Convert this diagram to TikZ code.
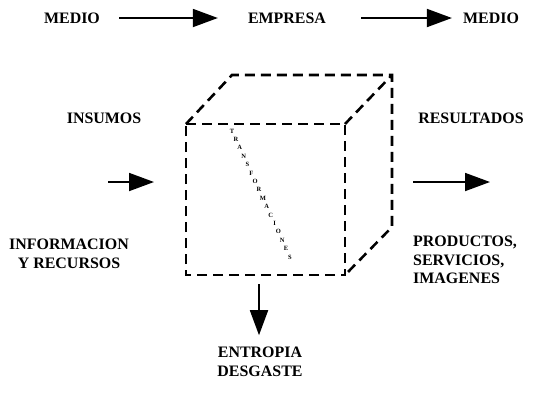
\documentclass[tikz,border=0pt]{standalone}
\usepackage{fontspec}
\setmainfont{Liberation Serif}
\usetikzlibrary{arrows.meta,calc}
\begin{document}
\begin{tikzpicture}[x=1bp,y=-1bp,
  lbl/.style={font=\bfseries\fontsize{16}{18.5}\selectfont, inner sep=0pt},
  arr/.style={line width=1.8bp, -{Triangle[length=25bp,width=18bp]}},
  cube/.style={line width=2.6bp, dash pattern=on 10bp off 6bp},
  tiny/.style={font=\bfseries\fontsize{6.5}{6.5}\selectfont, inner sep=0pt}]
\useasboundingbox (0,0) rectangle (540,407);
% top row
\node[lbl] (m1) at (72,18) {MEDIO};
\node[lbl] (emp) at (287,18) {EMPRESA};
\node[lbl] (m2) at (491,18) {MEDIO};
\draw[arr] ($(m1.east)+(19,0)$) coordinate (a1s) -- ($(emp.west)+(-30,0)$) coordinate (a1e);
\draw[arr] ($(emp.east)+(35,0)$) coordinate (a2s) -- ($(m2.west)+(-11,0)$) coordinate (a2e);
% side labels
\node[lbl] (ins) at (104,118) {INSUMOS};
\node[lbl] (res) at (471,118) {RESULTADOS};
\node[lbl, align=center] (inf) at (69,254) {INFORMACION\\Y RECURSOS};
\node[lbl, align=left, anchor=north west] (prod) at (413,236) {PRODUCTOS,\\SERVICIOS,\\IMAGENES};
\node[lbl, align=center] (ent) at (260,362) {ENTROPIA\\DESGASTE};
% cube
\coordinate (f1) at (186,124);
\coordinate (f2) at (345,124);
\coordinate (f3) at (345,275);
\coordinate (f4) at (186,275);
\coordinate (b1) at (232,75);
\coordinate (b2) at (392,75);
\coordinate (b3) at (392,227);
\draw[cube] (f1) -- (f2) -- (f3) -- (f4) -- cycle;
\draw[cube] (f1) -- (b1) -- (b2) -- (b3) -- (f3);
\draw[cube] (f2) -- (b2);
% diagonal text
\coordinate (ts) at (232,131);
\coordinate (te) at (290,257);
\foreach \l [count=\i] in {T,R,A,N,S,F,O,R,M,A,C,I,O,N,E,S}
  \node[tiny] (t\i) at ($(ts)!{(\i-1)/15}!(te)$) {\l};
% middle arrows
\coordinate (li) at (108,182);
\coordinate (lo) at (154,182);
\coordinate (ri) at (413,182);
\coordinate (ro) at (490,182);
\draw[arr] (li) -- (lo);
\draw[arr] (ri) -- (ro);
% down arrow
\coordinate (ds) at (259,284);
\draw[arr] (ds) -- ($(ent.north)+(-1,-12)$) coordinate (de);
\end{tikzpicture}
\end{document}
